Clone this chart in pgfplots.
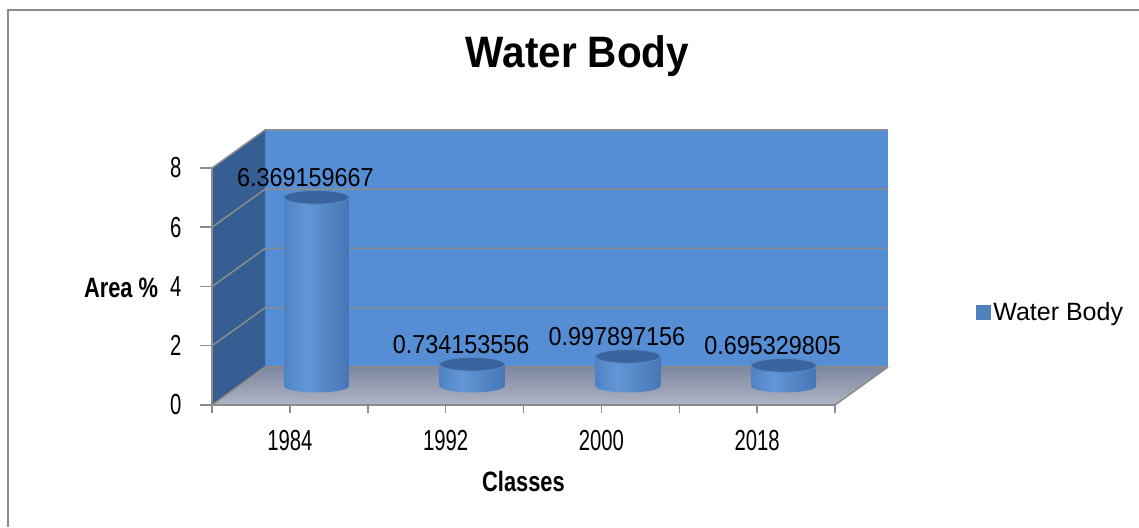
\documentclass[border=0pt]{standalone}
\usepackage{pgfplots}
\pgfplotsset{compat=1.18}
\usepackage{fontspec}
\setmainfont{Liberation Sans}
\newfontfamily\tickfont{Liberation Sans}[FakeStretch=0.70]
\newfontfamily\labfont{Liberation Sans}[FakeStretch=0.78]
\newfontfamily\datafont{Liberation Sans}[FakeStretch=0.90]
\newfontfamily\titfont{Liberation Sans}[FakeStretch=0.92]
\definecolor{wall}{RGB}{85,142,213}
\definecolor{side}{RGB}{54,94,146}
\definecolor{floortop}{RGB}{125,135,160}
\definecolor{floorbot}{RGB}{176,181,196}
\definecolor{gridc}{RGB}{140,140,140}
\definecolor{cA}{RGB}{46,88,146}
\definecolor{cB}{RGB}{70,120,186}
\definecolor{cC}{RGB}{98,150,214}
\definecolor{cD}{RGB}{66,113,176}
\definecolor{cE}{RGB}{40,80,136}
\definecolor{cyltop}{RGB}{58,100,158}
\definecolor{cylrim}{RGB}{88,136,198}
\definecolor{legc}{RGB}{79,129,189}
\pgfdeclarehorizontalshading{cylshade}{100bp}{color(0bp)=(cA); color(15bp)=(cB); color(42bp)=(cC); color(80bp)=(cD); color(100bp)=(cE)}
\pgfdeclareplotmark{cylbot}{%
  \pgfpathellipse{\pgfpointorigin}{\pgfpoint{32.5pt}{0pt}}{\pgfpoint{0pt}{6.5pt}}%
  \pgfshadepath{cylshade}{0}\pgfusepath{discard}}
\pgfdeclareplotmark{cyltopm}{%
  \pgfpathellipse{\pgfpointorigin}{\pgfpoint{32.5pt}{0pt}}{\pgfpoint{0pt}{6.8pt}}%
  \pgfusepath{fill,stroke}}
\begin{document}
\begin{tikzpicture}[x=1pt,y=1pt]
\useasboundingbox (0,0) rectangle (1139,527);
\draw[gridc, line width=2pt] (7.5,0) -- (7.5,517) -- (1139,517);
\begin{axis}[
  at={(212pt,122pt)}, anchor=south west,
  scale only axis, width=623pt, height=237pt,
  xmin=-0.5, xmax=3.5, ymin=0, ymax=8,
  clip=false, axis on top,
  axis x line*=bottom, axis y line*=left,
  axis line style={gridc, line width=2pt, -},
  tick style={gridc, line width=1.5pt},
  tick align=outside,
  xtick={-0.5,0.5,1.5,2.5,3.5}, xticklabels={},
  xtick style={/pgfplots/major tick length=8pt},
  ytick={0,2,4,6,8},
  ytick style={/pgfplots/major tick length=12pt},
  extra x ticks={0,1,2,3},
  extra x tick labels={1984,1992,2000,2018},
  extra x tick style={major tick length=0pt, xticklabel style={anchor=center, yshift=-36pt}},
  /pgf/number format/assume math mode=true,
  tick label style={font=\tickfont\fontsize{29}{32}\selectfont},
  yticklabel style={anchor=center, xshift=-32pt},
  title={Water Body},
  title style={at={(axis description cs:0.5867,1.4008)}, anchor=base, font=\titfont\bfseries\fontsize{44}{48}\selectfont},
  xlabel={Classes},
  xlabel style={at={(axis description cs:0.5,-0.321)}, anchor=center, font=\labfont\bfseries\fontsize{28}{30}\selectfont},
  ylabel={Area \%},
  ylabel style={at={(axis description cs:-0.146,0.4937)}, anchor=center, rotate=-90, font=\labfont\bfseries\fontsize{28}{30}\selectfont},
]
% back wall
\fill[wall] (axis cs:-0.1597,1.2827) rectangle (axis cs:3.8403,9.2827);
% side wall
\fill[side] (axis cs:-0.5,0) -- (axis cs:-0.1597,1.2827) -- (axis cs:-0.1597,9.2827) -- (axis cs:-0.5,8) -- cycle;
% floor
\shade[top color=floortop, bottom color=floorbot] (axis cs:-0.5,0) -- (axis cs:3.5,0) -- (axis cs:3.8403,1.2827) -- (axis cs:-0.1597,1.2827) -- cycle;
% grid lines
\foreach \k/\kk in {0/1.2827,2/3.2827,4/5.2827,6/7.2827,8/9.2827}{
  \edef\tmp{\noexpand\draw[gridc, line width=1.5pt] (axis cs:-0.5,\k) -- (axis cs:-0.1597,\kk) -- (axis cs:3.8403,\kk);}\tmp
}
\draw[gridc, line width=1.5pt] (axis cs:3.5,0) -- (axis cs:3.8403,1.2827);
\end{axis}
\begin{axis}[
  at={(238.5pt,141pt)}, anchor=south west,
  scale only axis, width=623pt, height=237pt,
  xmin=-0.5, xmax=3.5, ymin=0, ymax=8,
  hide axis, clip=false,
  legend style={at={(axis description cs:1.184,0.312)}, anchor=west, draw=none, fill=none,
    inner sep=0pt, font=\fontsize{25}{28}\selectfont},
  legend cell align=left,
  legend image code/.code={\pgfsetfillcolor{legc}\pgfpathrectangle{\pgfpoint{0pt}{-7.5pt}}{\pgfpoint{15pt}{15pt}}\pgfusepath{fill}},
  cyl/.style={ybar, bar width=65pt, draw=none, shading=cylshade, shading angle=0},
]
\addplot[only marks, mark=cylbot, forget plot]
  coordinates {(0,0) (1,0) (2,0) (3,0)};
\addplot[cyl] coordinates {(0,6.369159667)};
\addlegendentry{Water Body}
\addplot[cyl, forget plot] coordinates {(1,0.734153556)};
\addplot[cyl, forget plot] coordinates {(2,0.997897156)};
\addplot[cyl, forget plot] coordinates {(3,0.695329805)};
\addplot[only marks, mark=cyltopm, mark options={fill=cyltop, draw=cylrim, line width=0.8pt},
  forget plot, point meta=explicit symbolic, nodes near coords,
  every node near coord/.append style={anchor=south, inner sep=0pt, yshift=10.5pt, xshift=-11pt, text=black, font=\datafont\fontsize{26}{28}\selectfont}]
  coordinates {(0,6.369159667) [6.369159667] (1,0.734153556) [0.734153556] (2,0.997897156) [0.997897156] (3,0.695329805) [0.695329805]};
\end{axis}
\end{tikzpicture}
\end{document}
